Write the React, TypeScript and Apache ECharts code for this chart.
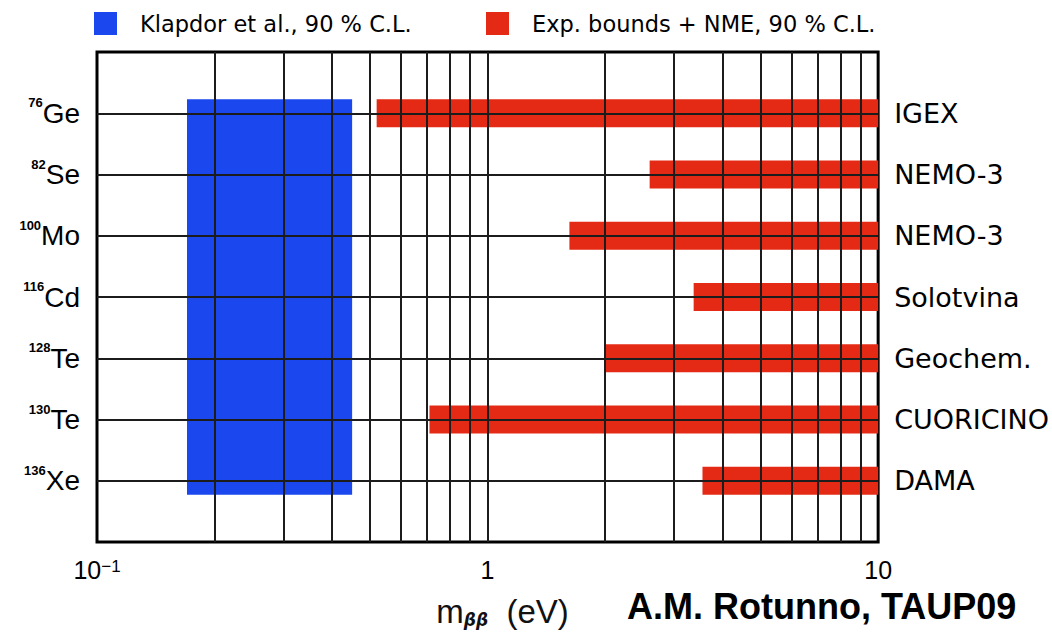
import React, { useEffect, useRef } from 'react';
import * as echarts from 'echarts';

// ---- data ----
const massNumbers = ['76', '82', '100', '116', '128', '130', '136'];
const elements = ['Ge', 'Se', 'Mo', 'Cd', 'Te', 'Te', 'Xe'];
const experiments = ['IGEX', 'NEMO-3', 'NEMO-3', 'Solotvina', 'Geochem.', 'CUORICINO', 'DAMA'];
const expLowerBounds = [0.52, 2.6, 1.62, 3.37, 2.0, 0.71, 3.55];
const expUpperBounds = [10, 10, 10, 10, 10, 10, 10];
const klapdorRange = [0.17, 0.45];
const xGridValues = [0.2, 0.3, 0.4, 0.5, 0.6, 0.7, 0.8, 0.9, 1, 2, 3, 4, 5, 6, 7, 8, 9];
const xTickLabels: Record<string, string> = {
  '0.1': '{n|10}{s|−1}',
  '1': '{n|1}',
  '10': '{n|10}',
};
const legendNames = ['Klapdor et al., 90 % C.L.', 'Exp. bounds + NME, 90 % C.L.'];

const N = massNumbers.length;
const rowValue = (i: number) => N - i;
const HALF = 0.23;
const BLUE = '#1a47ee';
const RED = '#e42a14';
const LINE = '#1c1c1c';

export default function App() {
  const ref = useRef<HTMLDivElement>(null);
  useEffect(() => {
    if (!ref.current) return;
    const chart = echarts.init(ref.current, null, { renderer: 'svg' });

    const rectRender = (params: any, api: any) => {
      const y0 = api.value(2);
      const y1 = api.value(3);
      const p0 = api.coord([api.value(0), y1 + HALF]);
      const p1 = api.coord([api.value(1), y0 - HALF]);
      return {
        type: 'rect',
        shape: { x: p0[0], y: p0[1], width: p1[0] - p0[0], height: p1[1] - p0[1] },
        style: { fill: api.visual('color') },
      };
    };

    const legendText = { fontFamily: 'DejaVu Sans', fontSize: 22.5, color: '#000', padding: [0, 0, 0, 18] };

    const option: any = {
      animation: false,
      backgroundColor: '#fff',
      grid: {
        left: 97, right: 172, top: 52, bottom: 97,
        show: true, borderColor: '#000', borderWidth: 3, backgroundColor: 'transparent',
      },
      legend: [
        {
          data: [legendNames[0]], left: 94, top: 12, padding: 0,
          itemWidth: 23, itemHeight: 23, icon: 'rect', textStyle: legendText,
        },
        {
          data: [legendNames[1]], left: 486, top: 12, padding: 0,
          itemWidth: 23, itemHeight: 23, icon: 'rect', textStyle: legendText,
        },
      ],
      xAxis: {
        type: 'log', logBase: 10, min: 0.1, max: 10,
        axisLine: { show: false }, axisTick: { show: false }, splitLine: { show: false },
        axisLabel: {
          margin: 16,
          formatter: (v: number) => xTickLabels[String(+v.toPrecision(6))] ?? '',
          rich: {
            n: { fontFamily: 'Liberation Sans', fontSize: 25, color: '#000', lineHeight: 24 },
            s: { fontFamily: 'Liberation Sans', fontSize: 17, color: '#000', verticalAlign: 'top', lineHeight: 12 },
          },
        },
        name: '{m|m}{b|ββ}{p|  (eV)}',
        nameLocation: 'middle',
        nameGap: 53,
        nameTextStyle: {
          padding: [0, 0, 0, 30],
          rich: {
            m: { fontFamily: 'Liberation Sans', fontSize: 33, color: '#111' },
            b: { fontFamily: 'DejaVu Sans', fontSize: 17, fontWeight: 'bold', fontStyle: 'italic', color: '#111', verticalAlign: 'bottom' },
            p: { fontFamily: 'Liberation Sans', fontSize: 33, color: '#111' },
          },
        },
      },
      yAxis: [
        {
          type: 'value', min: 0, max: 8, interval: 1, position: 'left',
          axisLine: { show: false }, axisTick: { show: false }, splitLine: { show: false },
          axisLabel: {
            margin: 17,
            formatter: (v: number) => {
              const i = N - v;
              return i >= 0 && i < N ? `{s|${massNumbers[i]}}{e|${elements[i]}}` : '';
            },
            rich: {
              s: { fontFamily: 'Liberation Sans', fontSize: 13, fontWeight: 'bold', color: '#000', verticalAlign: 'top', lineHeight: 12 },
              e: { fontFamily: 'Liberation Sans', fontSize: 28, color: '#000', lineHeight: 34 },
            },
          },
        },
        {
          type: 'value', min: 0, max: 8, interval: 1, position: 'right',
          axisLine: { show: false }, axisTick: { show: false }, splitLine: { show: false },
          axisLabel: {
            margin: 16,
            fontFamily: 'DejaVu Sans', fontSize: 27, color: '#000',
            formatter: (v: number) => {
              const i = N - v;
              return i >= 0 && i < N ? experiments[i] : '';
            },
          },
        },
      ],
      series: [
        {
          name: legendNames[0],
          type: 'custom',
          itemStyle: { color: BLUE },
          z: 2,
          renderItem: rectRender,
          encode: { x: [0, 1], y: [2, 3] },
          data: [[klapdorRange[0], klapdorRange[1], rowValue(N - 1), rowValue(0)]],
        },
        {
          name: legendNames[1],
          type: 'custom',
          itemStyle: { color: RED },
          z: 2,
          renderItem: rectRender,
          encode: { x: [0, 1], y: [2, 3] },
          data: expLowerBounds.map((lo, i) => [lo, expUpperBounds[i], rowValue(i), rowValue(i)]),
        },
        {
          type: 'line',
          data: [],
          z: 5,
          markLine: {
            silent: true,
            symbol: ['none', 'none'],
            label: { show: false },
            lineStyle: { color: LINE, width: 2, type: 'solid' },
            data: [
              ...xGridValues.map((v) => ({ xAxis: v })),
              ...massNumbers.map((_, i) => ({ yAxis: rowValue(i) })),
            ],
          },
        },
      ],
      graphic: [
        {
          type: 'text',
          left: 627,
          top: 588,
          style: {
            text: 'A.M. Rotunno, TAUP09',
            font: 'bold 36px "Liberation Sans", Arial, sans-serif',
            fill: '#000',
          },
        },
      ],
    };

    chart.setOption(option);
    return () => chart.dispose();
  }, []);

  return (
    <div
      ref={ref}
      style={{ position: 'absolute', left: 0, top: 0, width: 1052, height: 639, background: '#fff' }}
    />
  );
}
